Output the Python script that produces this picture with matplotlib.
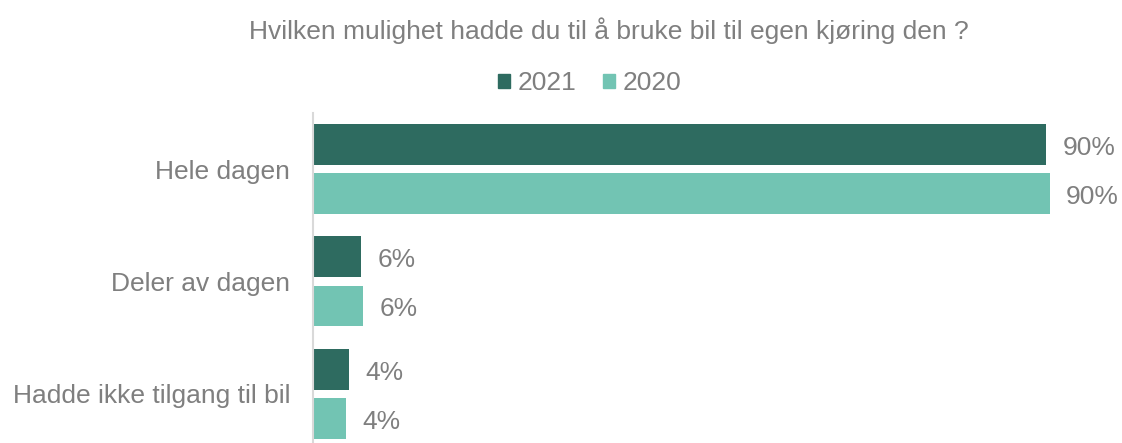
import matplotlib
matplotlib.use('Agg')
import matplotlib.pyplot as plt
from matplotlib.patches import Patch
import numpy as np

categories = ['Hele dagen', 'Deler av dagen', 'Hadde ikke tilgang til bil']
values2021 = [90.0, 5.9, 4.4]
values2020 = [90.4, 6.1, 4.0]
seriesLabels = ['2021', '2020']
title = 'Hvilken mulighet hadde du til å bruke bil til egen kjøring den ?'

dark = '#2E6B60'
light = '#72C4B3'
gray = '#7F7F7F'

plt.rcParams['font.family'] = ['Liberation Sans', 'DejaVu Sans']

fig = plt.figure(figsize=(11.22, 4.43), dpi=100)
ax = fig.add_axes([313/1122, 0, 774/1122, 1 - 113/443])

y = np.arange(len(categories))
h = 0.364
off = 0.218
b1 = ax.barh(y - off, values2021, h, color=dark)
b2 = ax.barh(y + off, values2020, h, color=light)

for bars, vals in [(b1, values2021), (b2, values2020)]:
    for rect, v in zip(bars, vals):
        ax.annotate('%d%%' % round(v), xy=(rect.get_width(), rect.get_y() + rect.get_height()/2),
                    xytext=(12, -2.5), textcoords='offset points', ha='left', va='center',
                    fontsize=19, color=gray)

ax.set_xlim(0, 95)
ax.set_ylim(2.436, -0.498)
ax.set_yticks(y)
ax.set_yticklabels(categories, fontsize=19, color=gray)
ax.tick_params(axis='y', length=0, pad=16.5)
ax.tick_params(axis='x', bottom=False, labelbottom=False)
for s in ['top', 'right', 'bottom']:
    ax.spines[s].set_visible(False)
ax.spines['left'].set_color('#D9D9D9')
ax.spines['left'].set_linewidth(1.5)

fig.text(609/1122, 1 - 31/443, title, ha='center', va='center', fontsize=19, color=gray)

handles = [Patch(color=dark), Patch(color=light)]
fig.legend(handles, seriesLabels, loc='center', bbox_to_anchor=(590/1122, 1 - 83/443), ncol=2,
           frameon=False, fontsize=19, labelcolor=gray, handlelength=0.45, handleheight=0.45,
           handletextpad=0.3, columnspacing=1.0)

fig.savefig('out.png', dpi=100)
